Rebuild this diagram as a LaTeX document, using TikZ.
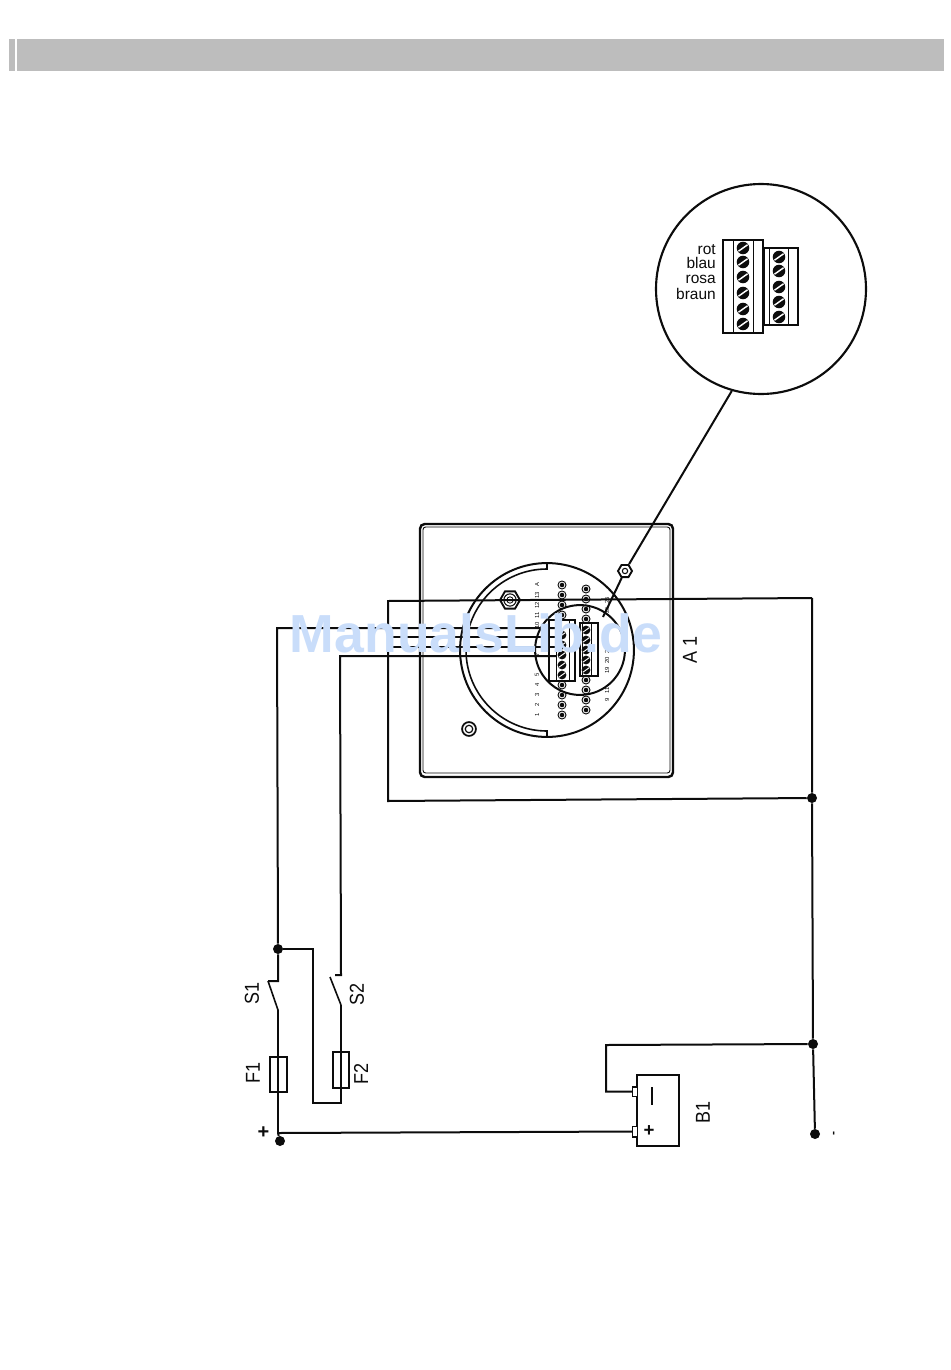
\documentclass[tikz,border=0pt]{standalone}
\usepackage{fontspec}
\setmainfont{Liberation Sans}
\usetikzlibrary{shapes.geometric,calc}
\definecolor{barcol}{HTML}{BDBDBD}
\definecolor{wmcol}{HTML}{C9DDFA}
\definecolor{ink}{HTML}{0C0C0C}
\tikzset{
  wire/.style={draw=ink,line width=1.5pt,line join=miter},
  thinwire/.style={draw=ink,line width=1.2pt},
  dotnode/.style={circle,fill=ink,inner sep=0pt,minimum size=7.5pt},
  lab/.style={inner sep=0pt,text=ink,font=\fontsize{13.5pt}{14pt}\selectfont,rotate=90},
  detlab/.style={inner sep=0pt,text=ink,anchor=base east,font=\fontsize{11.6pt}{12pt}\selectfont},
  tiny/.style={inner sep=0pt,text=ink,rotate=90,font=\fontsize{4.4pt}{4.4pt}\selectfont},
  signb/.style={inner sep=0pt,text=ink,font=\fontsize{14pt}{14pt}\selectfont\bfseries},
  nut/.style={regular polygon,regular polygon sides=6,draw=ink,line width=1.4pt,fill=white,inner sep=0pt}
}
\newcommand{\bigscrew}[2]{%
  \fill[ink] (#1,#2) circle[radius=4.7pt];
  \draw[white,line width=1.1pt] ($(#1,#2)+(-3.4pt,-2.4pt)$) -- ($(#1,#2)+(3.4pt,2.4pt)$);
}
\newcommand{\midscrew}[2]{%
  \fill[ink] (#1,#2) circle[radius=3.3pt];
  \draw[white,line width=.7pt] ($(#1,#2)+(-2.4pt,-1.7pt)$) -- ($(#1,#2)+(2.4pt,1.7pt)$);
}
\newcommand{\smallscrew}[2]{%
  \draw[ink,line width=.7pt] (#1,#2) circle[radius=3pt];
  \fill[ink] (#1,#2) circle[radius=1.7pt];
}
\newcommand{\tall}[1]{\scalebox{1}[1.12]{#1}}
\begin{document}
\begin{tikzpicture}[x=0.75pt,y=-0.75pt]
\useasboundingbox (0,0) rectangle (950,1370);
% header bar
\fill[barcol] (9,39) rectangle (15,71);
\fill[barcol] (17,39) rectangle (944,71);

% panel
\draw[ink,line width=1.8pt,rounded corners=3.5pt] (420,524) rectangle (673,777);
\draw[ink,line width=.7pt,rounded corners=2pt] (423,527) rectangle (670,773);
\draw[ink,line width=1.5pt] (547,650) circle[radius=65.2pt];
\draw[ink,line width=1.2pt] (547,563) -- (547,569) arc[start angle=90,end angle=270,radius=60.75pt] -- (547,737);
\draw[ink,line width=1.5pt] (580,650) circle[radius=33.7pt];
% fixing points
\node[nut,minimum size=15pt] (bolt) at (510,600) {};
\draw[ink,line width=.8pt] (510,600) circle[radius=4.6pt];
\draw[ink,line width=.6pt] (510,600) circle[radius=2.4pt];
\draw[ink,line width=1.3pt] (469,729) circle[radius=5.2pt];
\draw[ink,line width=.9pt] (469,729) circle[radius=2.8pt];

% terminal blocks on panel
\draw[ink,line width=1.5pt,fill=white] (549,620) rectangle (575,681);
\draw[ink,line width=.6pt] (556,620) -- (556,681) (569,620) -- (569,681);
\draw[ink,line width=1.5pt,fill=white] (580,623) rectangle (598,676);
\draw[ink,line width=.6pt] (582.5,623) -- (582.5,676) (591,623) -- (591,676);
\foreach \y in {635,645,655,665,675} {\midscrew{562}{\y}}
\foreach \y in {630,640,650,660,670} {\midscrew{586}{\y}}
\foreach \y in {585,595,605,615,685,695,705,715} {\smallscrew{562}{\y}}
\foreach \y in {589,599,609,619,680,690,700,710} {\smallscrew{586}{\y}}
% tiny terminal numbers
\foreach \t/\y in {1/715,2/705,3/695,4/685,5/675,7/655,10/625,11/615,12/605,13/595,A/585} {
  \node[tiny] (n\t) at (537,\y) {\t};
}
\foreach \t/\y in {9/700,11/690,19/670,20/660,21/650,25/610,26/600} {
  \node[tiny] (m\t) at (607,\y) {\t};
}

% detail magnifier
\node[circle,draw=ink,line width=1.6pt,fill=white,minimum size=157.5pt,inner sep=0pt] (detail) at (761,289) {};
\coordinate (pointer) at (603,617);
\node[nut,minimum size=10.5pt] (nut) at (625,571) {};
\draw[ink,line width=.8pt] (625,571) circle[radius=2pt];
\draw[wire] (detail.-106.5) -- (nut) -- (pointer);
\draw[ink,line width=2pt] (723,240) rectangle (763,333);
\draw[ink,line width=.7pt] (733,240) -- (733,333) (753,240) -- (753,333);
\draw[ink,line width=2pt] (764,248) rectangle (798,325);
\draw[ink,line width=.7pt] (769,248) -- (769,325) (788,248) -- (788,325);
\foreach \y in {248,262,277,293,309,324} {\bigscrew{743}{\y}}
\foreach \y in {257,271,287,302,317} {\bigscrew{779}{\y}}
\node[detlab] (rot) at (716,254) {rot};
\node[detlab] (blau) at (716,268) {blau};
\node[detlab] (rosa) at (716,283.5) {rosa};
\node[detlab] (braun) at (716,299) {braun};

% junctions
\node[dotnode] (j1) at (812,798) {};
\node[dotnode] (j2) at (813,1044) {};
\node[dotnode] (gnd) at (815,1134) {};
\node[dotnode] (j3) at (278,949) {};
\node[dotnode] (plus) at (280,1141) {};

% wiring coordinates
\coordinate (ltop) at (812,598);
\coordinate (lA) at (388,601);
\coordinate (lB) at (388,801);
\coordinate (t1) at (556,628);
\coordinate (t2) at (556,637);
\coordinate (t2s) at (388,637);
\coordinate (t3) at (556,647);
\coordinate (t3s) at (388,647);
\coordinate (t4) at (556,656);
\coordinate (s1a) at (278,981);
\coordinate (s1b) at (278,1010);
\coordinate (s1s) at (268,981);
\coordinate (s2a) at (341,975);
\coordinate (s2b) at (341,1005);
\coordinate (s2s) at (330,977);

% supply loop to panel
\draw[wire] (ltop) -- (lA) -- (lB) -- (j1);
\draw[wire] (ltop) -- (j1) -- (j2) -- (gnd);
\draw[wire] (t2s) -- (t2);
\draw[wire] (t3s) -- (t3);
% S1 / F1 branch
\node[draw=ink,line width=1.4pt,minimum width=12.8pt,minimum height=26.2pt,inner sep=0pt] (F1) at (278.5,1074.5) {};
\node[draw=ink,line width=1.4pt,minimum width=12pt,minimum height=27pt,inner sep=0pt] (F2) at (341,1070) {};
\draw[wire] (t1) -- (277,628) -- (j3) -- (s1a) -- (s1s);
\draw[thinwire] (s1s) -- (s1b);
\draw[wire] (s1b) -- (F1.north -| s1b) -- (F1.south -| s1b) -- (278,1133);
\draw[wire] (278,1133) -- (plus);
% S2 / F2 branch
\draw[wire] (t4) -- (340,656) -- (s2a) -- (335,975);
\draw[thinwire] (s2s) -- (s2b);
\draw[wire] (s2b) -- (F2.north) -- (F2.south) -- (341,1103) -- (313,1103) -- (313,949) -- (j3);
% battery
\node[draw=ink,line width=1.6pt,minimum width=31.5pt,minimum height=53.2pt,inner sep=0pt] (B1box) at (658,1110.5) {};
\node[draw=ink,line width=1pt,fill=white,minimum width=3.5pt,minimum height=7pt,inner sep=0pt] (neg) at (635,1091.5) {};
\node[draw=ink,line width=1pt,fill=white,minimum width=3.5pt,minimum height=8pt,inner sep=0pt] (pos) at (635,1131.5) {};
\draw[wire] (j2) -- (606,1045) -- (606,1091.5) -- (neg);
\draw[wire] (278,1133) -- (pos);
\draw[ink,line width=1.8pt] (652,1087) -- (652,1105);
\node[signb] (bplus) at (649,1131) {+};

% labels
\node[lab] (S1) at (252,993) {\tall{S1}};
\node[lab] (F1l) at (253,1073) {\tall{F1}};
\node[lab] (S2) at (357,994) {\tall{S2}};
\node[lab] (F2l) at (361,1074) {\tall{F2}};
\node[lab] (B1) at (703,1112) {\tall{B1}};
\node[lab] (A1) at (690,650) {\tall{A 1}};
\node[signb,font=\fontsize{15pt}{15pt}\selectfont\bfseries] (plusl) at (263.5,1133) {+};
\node[lab,font=\fontsize{9pt}{9pt}\selectfont\bfseries] (minus) at (835,1133) {-};

% watermark
\node[inner sep=0pt,text=wmcol,font=\fontsize{40.2pt}{40pt}\selectfont\bfseries] (wm) at (476,633) {ManualsLib.de};
\end{tikzpicture}
\end{document}
